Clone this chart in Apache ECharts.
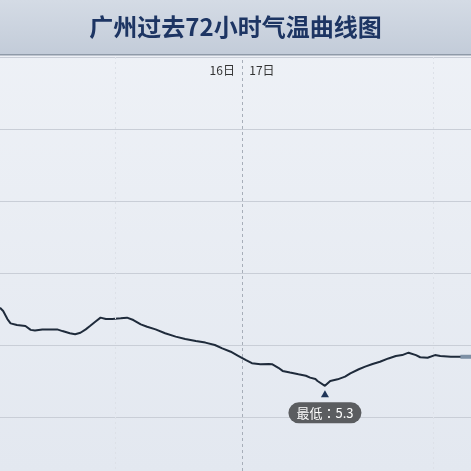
<!DOCTYPE html>
<html>
<head>
<meta charset="utf-8">
<script src="https://cdn.jsdelivr.net/npm/echarts@6/dist/echarts.min.js"></script>
<style>
html,body{margin:0;padding:0;}
#c{width:471px;height:471px;}
</style>
</head>
<body>
<div id="c"></div>
<script>
// hours relative to 00:00 on the 17th
var hours = [-22.9,-22.6,-22.2,-21.9,-21.3,-20.5,-20.0,-19.6,-18.9,-18.1,-17.5,-17.0,-16.3,-15.8,-15.3,-14.8,-14.4,-13.9,-13.4,-12.9,-12.3,-11.5,-10.9,-10.3,-9.6,-9.0,-8.2,-7.3,-6.3,-5.4,-4.4,-3.5,-2.6,-1.9,-1.1,-0.4,0.3,0.9,1.7,2.5,2.8,3.4,3.8,4.5,5.3,6.0,6.4,6.9,7.1,7.8,8.3,9.0,9.7,10.2,11.0,11.6,12.3,13.0,13.8,14.5,15.1,15.7,16.4,16.8,17.5,18.2,18.7,19.7,20.6,21.6];
// temperature (°C)
var temps = [8.55,8.42,8.08,7.90,7.83,7.79,7.63,7.60,7.65,7.65,7.65,7.58,7.49,7.45,7.51,7.65,7.79,7.97,8.14,8.08,8.08,8.11,8.14,8.04,7.86,7.76,7.65,7.49,7.35,7.25,7.17,7.10,7.00,6.86,6.72,6.55,6.38,6.24,6.20,6.21,6.20,6.05,5.92,5.85,5.78,5.72,5.64,5.58,5.50,5.30,5.50,5.57,5.68,5.82,5.99,6.10,6.21,6.30,6.44,6.54,6.58,6.68,6.58,6.49,6.47,6.58,6.54,6.51,6.51,6.51];
var dayLabels = ['16日', '17日'];
var dayLabelHours = [-1.9, 1.85];
var dayBoundary = [0];
var faintHours = [-12, 18];
var titleText = '广州过去72小时气温曲线图';

var lineData = hours.map(function (h, i) { return [h, temps[i]]; });
var currentData = lineData.slice(lineData.length - 2);

var chart = echarts.init(document.getElementById('c'));
chart.setOption({
  animation: false,
  backgroundColor: {
    type: 'linear', x: 0, y: 0, x2: 0, y2: 1,
    colorStops: [{offset: 0, color: '#eff2f7'}, {offset: 1, color: '#e3e8f0'}]
  },
  title: {
    text: titleText,
    left: 'center',
    top: 10,
    textStyle: {
      fontFamily: 'Noto Sans CJK SC',
      fontSize: 24,
      fontWeight: 'bold',
      color: '#1d3563'
    }
  },
  graphic: [
    {
      type: 'rect', z: 0,
      shape: {x: 0, y: 0, width: 471, height: 54},
      style: {
        fill: {
          type: 'linear', x: 0, y: 0, x2: 0, y2: 1,
          colorStops: [{offset: 0, color: '#d4dbe5'}, {offset: 1, color: '#c3ccd9'}]
        }
      }
    },
    {
      type: 'rect', z: 1,
      shape: {x: 0, y: 54, width: 471, height: 1.5},
      style: {fill: '#8f9aa8'}
    }
  ],
  grid: {left: 0, right: 0, top: 57, bottom: -18, outerBoundsMode: 'none'},
  xAxis: {
    type: 'value',
    position: 'top',
    min: -22.9,
    max: 21.6,
    axisLine: {show: false},
    axisTick: {show: false},
    splitLine: {show: false},
    axisLabel: {
      inside: true,
      margin: 7,
      customValues: dayLabelHours,
      formatter: function (v) { return v < 0 ? dayLabels[0] : dayLabels[1]; },
      color: '#333',
      fontSize: 12,
      fontFamily: 'Noto Sans CJK SC'
    }
  },
  yAxis: {
    type: 'value',
    min: 1,
    max: 19,
    interval: 3,
    axisLine: {show: false},
    axisTick: {show: false},
    axisLabel: {show: false},
    splitLine: {show: true, lineStyle: {color: '#c9ced7', width: 1}}
  },
  series: [
    {
      type: 'line',
      data: lineData,
      showSymbol: false,
      smooth: false,
      z: 3,
      lineStyle: {color: '#1f2b3b', width: 2},
      markLine: {
        silent: true,
        symbol: 'none',
        label: {show: false},
        data: dayBoundary.map(function (h) {
          return {xAxis: h, lineStyle: {color: '#a7aeb9', type: [3, 3], width: 1}};
        }).concat(faintHours.map(function (h) {
          return {xAxis: h, lineStyle: {color: '#dde1e8', type: [2, 3], width: 1}};
        }))
      },
      markPoint: {
        symbol: 'triangle',
        symbolSize: [8, 7],
        symbolOffset: [0, 8],
        itemStyle: {color: '#1f3457'},
        data: [{type: 'min', name: '最低'}],
        label: {
          show: true,
          position: 'bottom',
          distance: 5,
          formatter: '最低：{c}',
          color: '#ffffff',
          fontSize: 13,
          fontFamily: 'Noto Sans CJK TC',
          backgroundColor: '#5b5d60',
          borderRadius: 11,
          padding: [4, 8, 4, 8]
        }
      }
    },
    {
      type: 'line',
      data: currentData,
      showSymbol: false,
      z: 4,
      silent: true,
      lineStyle: {color: '#7d90a5', width: 4}
    }
  ]
});
</script>
</body>
</html>
